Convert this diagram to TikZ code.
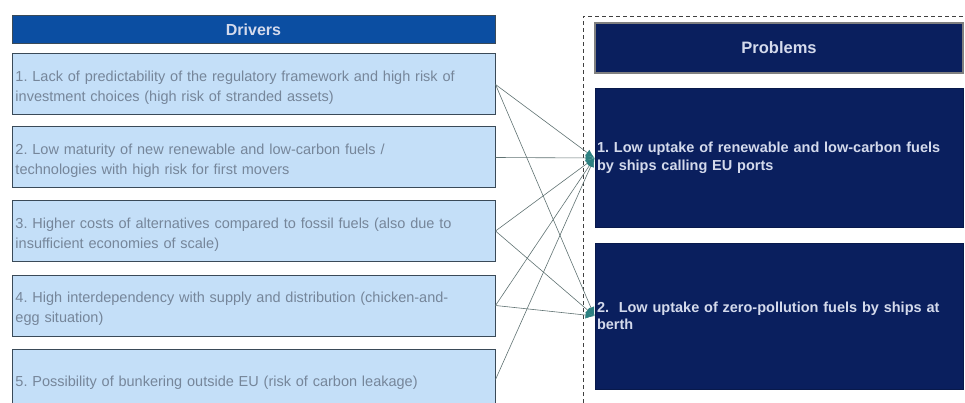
\documentclass[tikz,border=0pt]{standalone}
\usepackage{fontspec}
\setmainfont{Liberation Sans}
\usetikzlibrary{arrows.meta}
\frenchspacing

\definecolor{headblue}{HTML}{0B4EA2}
\definecolor{drivfill}{HTML}{C4DFF8}
\definecolor{drivline}{HTML}{3A4A58}
\definecolor{drivtext}{HTML}{76869A}
\definecolor{probfill}{HTML}{0A1F5E}
\definecolor{probtext}{HTML}{D4DAEC}
\definecolor{linkgray}{HTML}{5F7272}
\definecolor{tipteal}{HTML}{2C8080}

\begin{document}
\begin{tikzpicture}[x=1pt,y=-1pt,
    header/.style={draw=drivline,fill=headblue,line width=1pt,minimum width=483pt,minimum height=28pt,inner sep=0pt,text=probtext,font=\fontsize{16}{18}\selectfont\bfseries},
    driver/.style={draw=drivline,fill=drivfill,line width=1pt,minimum width=483pt,minimum height=61pt,text width=476pt,align=left,inner sep=0pt,text=drivtext,font=\fontsize{14.5}{20}\selectfont,execute at begin node={\rule{0pt}{17.5pt}}},
    probhead/.style={draw=gray,fill=probfill,line width=1.5pt,minimum width=368pt,minimum height=50pt,inner sep=0pt,text=probtext,font=\fontsize{16.5}{18}\selectfont\bfseries},
    problem/.style={draw=probfill!80!black,fill=probfill,line width=1pt,minimum width=368pt,text width=364pt,align=left,inner sep=0pt,text=probtext,font=\fontsize{14.5}{17.5}\selectfont\bfseries},
    link/.style={draw=linkgray,line width=0.6pt,-{Latex[length=9pt,width=7pt,color=tipteal]}}]
    \useasboundingbox (0,0) rectangle (965,403);

    % drivers
    \node[header] (hdrivers) at (253.5, 30) {Drivers};
    \node[driver] (d1) at (253.5, 84.5) {1. Lack of predictability of the regulatory framework and high risk of\\investment choices (high risk of stranded assets)};
    \node[driver] (d2) at (253.5, 157.5) {2. Low maturity of new renewable and low-carbon fuels /\\technologies with high risk for first movers};
    \node[driver] (d3) at (253.5, 231) {3. Higher costs of alternatives compared to fossil fuels (also due to\\insufficient economies of scale)};
    \node[driver] (d4) at (253.5, 305.5) {4. High interdependency with supply and distribution (chicken-and-\\egg situation)};
    \node[driver] (d5) at (253.5, 379.5) {5. Possibility of bunkering outside EU (risk of carbon leakage)};

    % problems
    \draw[dashed,dash pattern=on 4pt off 3pt,line width=0.8pt,black!75] (583,403) -- (583,16) -- (965,16);
    \node[probhead] (hproblems) at (779, 48) {Problems};
    \node[problem,minimum height=138pt] (p1) at (779, 158) {1. Low uptake of renewable and low-carbon fuels\\by ships calling EU ports};
    \node[problem,minimum height=146pt] (p2) at (779, 316) {2.\ \ Low uptake of zero-pollution fuels by ships at\\berth};

    \path (d1.east) edge[link] (p1.west)
        (d1.east) edge[link] (p2.west)
        (d2.east) edge[link] (p1.west)
        (d3.east) edge[link] (p1.west)
        (d3.east) edge[link] (p2.west)
        (d4.east) edge[link] (p1.west)
        (d4.east) edge[link] (p2.west)
        (d5.east) edge[link] (p1.west);
\end{tikzpicture}
\end{document}
